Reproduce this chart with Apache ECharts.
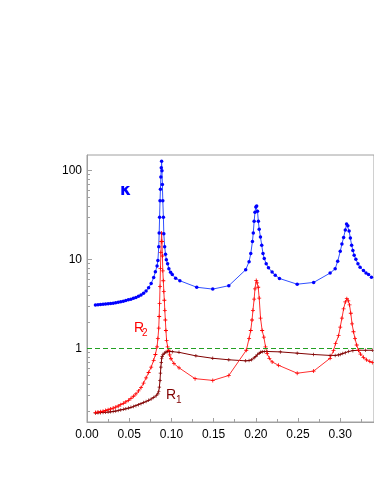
<!DOCTYPE html>
<html>
<head>
<meta charset="utf-8">
<script src="https://cdn.jsdelivr.net/npm/echarts@6/dist/echarts.min.js"></script>
<style>
  html, body { margin: 0; padding: 0; background: #fff; }
  #chart { width: 374px; height: 484px; }
</style>
</head>
<body>
<div id="chart"></div>
<script>
// kappa (blue)
const kappaX = [0.010, 0.013, 0.016, 0.019, 0.022, 0.025, 0.028, 0.031, 0.034, 0.037, 0.040, 0.043, 0.046, 0.049, 0.052, 0.055, 0.058, 0.061, 0.064, 0.067, 0.070, 0.073, 0.076, 0.079, 0.081, 0.083, 0.084, 0.085, 0.0855, 0.086, 0.0865, 0.087, 0.0875, 0.088, 0.0884, 0.0888, 0.0893, 0.0898, 0.0905, 0.091, 0.092, 0.093, 0.094, 0.0955, 0.097, 0.099, 0.101, 0.105, 0.110, 0.130, 0.149, 0.168, 0.188, 0.192, 0.194, 0.196, 0.197, 0.198, 0.199, 0.200, 0.201, 0.202, 0.203, 0.204, 0.2055, 0.207, 0.2085, 0.210, 0.2123, 0.215, 0.2193, 0.223, 0.228, 0.249, 0.2685, 0.288, 0.294, 0.297, 0.300, 0.302, 0.304, 0.306, 0.3075, 0.309, 0.3105, 0.312, 0.3135, 0.315, 0.3165, 0.3185, 0.321, 0.3235, 0.3275, 0.3305, 0.3335, 0.337]
const kappaY = [3.10, 3.12, 3.14, 3.16, 3.18, 3.20, 3.22, 3.24, 3.28, 3.32, 3.37, 3.42, 3.48, 3.54, 3.60, 3.68, 3.77, 3.88, 4.02, 4.20, 4.45, 4.85, 5.4, 6.3, 7.3, 8.5, 9.8, 14, 20, 30, 46, 62, 85, 108, 128, 100, 70, 46, 30, 19.5, 14, 11.5, 10, 9.0, 7.9, 7.2, 6.8, 6.2, 5.8, 4.9, 4.67, 5.1, 7.7, 9.5, 11.7, 16, 20, 27, 34, 39, 40, 35, 27, 22, 18, 14.5, 11.7, 10.3, 9.0, 8.1, 7.25, 6.7, 6.15, 5.3, 5.55, 7.07, 7.9, 9.6, 12.4, 15, 17.8, 21.5, 25.2, 24, 21, 17.5, 14.5, 12.7, 11.2, 10.1, 9.0, 8.2, 7.55, 7.1, 6.8, 6.35]

// R2 (red)
const r2X = [0.010, 0.013, 0.016, 0.019, 0.022, 0.025, 0.028, 0.031, 0.034, 0.037, 0.040, 0.043, 0.046, 0.049, 0.052, 0.055, 0.058, 0.061, 0.064, 0.067, 0.070, 0.073, 0.076, 0.079, 0.081, 0.083, 0.084, 0.085, 0.0855, 0.086, 0.0865, 0.087, 0.0875, 0.088, 0.0884, 0.0888, 0.0893, 0.0898, 0.0904, 0.091, 0.0916, 0.0922, 0.0928, 0.0935, 0.0943, 0.0955, 0.0967, 0.098, 0.0995, 0.103, 0.109, 0.128, 0.149, 0.168, 0.1887, 0.192, 0.194, 0.1955, 0.1966, 0.198, 0.199, 0.2005, 0.2015, 0.2028, 0.204, 0.2056, 0.2075, 0.2095, 0.2115, 0.2134, 0.216, 0.2193, 0.227, 0.249, 0.2685, 0.288, 0.292, 0.2945, 0.298, 0.300, 0.302, 0.304, 0.306, 0.3078, 0.3095, 0.311, 0.3125, 0.314, 0.3157, 0.3175, 0.3195, 0.3216, 0.324, 0.3275, 0.331, 0.335, 0.338]
const r2Y = [0.192, 0.194, 0.196, 0.198, 0.202, 0.206, 0.210, 0.215, 0.220, 0.227, 0.235, 0.243, 0.252, 0.263, 0.276, 0.292, 0.310, 0.335, 0.365, 0.41, 0.47, 0.54, 0.62, 0.74, 0.86, 1.05, 1.3, 1.7, 2.3, 3.2, 5, 8, 12, 16, 20, 16, 11, 7.5, 5.8, 4.4, 3.5, 2.7, 2.1, 1.6, 1.24, 1.05, 0.96, 0.85, 0.77, 0.68, 0.61, 0.46, 0.44, 0.50, 0.96, 1.3, 1.6, 2.1, 2.7, 3.6, 4.7, 5.85, 5.5, 4.9, 3.7, 2.2, 1.6, 1.35, 1.05, 0.88, 0.78, 0.71, 0.65, 0.53, 0.56, 0.78, 0.95, 1.14, 1.4, 1.75, 2.2, 2.8, 3.35, 3.65, 3.45, 3.1, 2.5, 1.9, 1.55, 1.3, 1.1, 0.96, 0.87, 0.80, 0.75, 0.72, 0.70]

// R1 (dark red)
const r1X = [0.010, 0.013, 0.016, 0.019, 0.022, 0.025, 0.028, 0.031, 0.034, 0.037, 0.040, 0.043, 0.046, 0.049, 0.052, 0.055, 0.058, 0.061, 0.064, 0.067, 0.070, 0.073, 0.076, 0.079, 0.082, 0.084, 0.085, 0.0857, 0.0865, 0.087, 0.0875, 0.088, 0.0885, 0.089, 0.090, 0.0916, 0.0936, 0.0955, 0.098, 0.101, 0.109, 0.129, 0.149, 0.168, 0.188, 0.192, 0.195, 0.198, 0.200, 0.202, 0.204, 0.2056, 0.2076, 0.210, 0.2134, 0.229, 0.249, 0.2685, 0.288, 0.294, 0.298, 0.300, 0.303, 0.306, 0.310, 0.315, 0.3216, 0.330, 0.338]
const r1Y = [0.189, 0.190, 0.191, 0.192, 0.193, 0.194, 0.195, 0.197, 0.199, 0.202, 0.205, 0.208, 0.211, 0.215, 0.219, 0.224, 0.229, 0.235, 0.241, 0.248, 0.255, 0.263, 0.272, 0.283, 0.296, 0.310, 0.330, 0.37, 0.44, 0.53, 0.62, 0.70, 0.77, 0.82, 0.86, 0.89, 0.92, 0.93, 0.93, 0.925, 0.91, 0.83, 0.78, 0.75, 0.73, 0.735, 0.75, 0.79, 0.82, 0.86, 0.89, 0.91, 0.925, 0.93, 0.93, 0.92, 0.89, 0.86, 0.84, 0.84, 0.85, 0.86, 0.88, 0.90, 0.93, 0.95, 0.96, 0.96, 0.96]

const refLevel = 1
const yMinorTicks = [0.2, 0.3, 0.4, 0.5, 0.6, 0.7, 0.8, 0.9, 2, 3, 4, 5, 6, 7, 8, 9, 20, 30, 40, 50, 60, 70, 80, 90]

const zip = (xs, ys) => xs.map((x, i) => [x, ys[i]])

const plus = 'path://M2,0H3V2H5V3H3V5H2V3H0V2H2Z'
const axisGray = '#a0a0a0'
const font = 'Liberation Sans, Arial, sans-serif'

const chart = echarts.init(document.getElementById('chart'))

chart.setOption({
  animation: false,
  grid: {
    left: 87,
    top: 155,
    right: -2,
    bottom: 62,
    show: true,
    borderColor: axisGray,
    borderWidth: 1
  },
  xAxis: {
    type: 'value',
    min: 0,
    max: 0.34,
    interval: 0.05,
    axisLine: { show: true, lineStyle: { color: axisGray } },
    axisTick: { show: true, inside: true, length: 4, lineStyle: { color: axisGray } },
    minorTick: { show: true, splitNumber: 2, length: 3, lineStyle: { color: axisGray } },
    splitLine: { show: false },
    axisLabel: {
      color: '#000',
      fontSize: 12,
      fontFamily: font,
      margin: 7,
      showMaxLabel: false,
      formatter: (v) => v.toFixed(2)
    }
  },
  yAxis: [
    {
      type: 'log',
      logBase: 10,
      min: 0.15,
      max: 150,
      axisLine: { show: true, lineStyle: { color: axisGray } },
      axisTick: { show: true, inside: true, length: 5, lineStyle: { color: axisGray } },
      splitLine: { show: false },
      axisLabel: {
        color: '#000',
        fontSize: 12,
        fontFamily: font,
        margin: 5,
        showMinLabel: false,
        showMaxLabel: false
      }
    },
    {
      type: 'log',
      logBase: 10,
      min: 0.15,
      max: 150,
      position: 'left',
      axisLine: { show: false },
      axisTick: {
        show: true,
        inside: true,
        length: 3,
        customValues: yMinorTicks,
        lineStyle: { color: axisGray }
      },
      axisLabel: { show: false },
      splitLine: { show: false }
    }
  ],
  series: [
    {
      name: 'R1',
      type: 'line',
      data: zip(r1X, r1Y),
      symbol: plus,
      symbolSize: 3.5,
      itemStyle: { color: '#800000' },
      lineStyle: { color: '#800000', width: 1 }
    },
    {
      name: 'R2',
      type: 'line',
      data: zip(r2X, r2Y),
      symbol: plus,
      symbolSize: 4,
      itemStyle: { color: '#ff0000' },
      lineStyle: { color: '#ff3030', width: 1 },
      markLine: {
        silent: true,
        symbol: 'none',
        label: { show: false },
        lineStyle: { color: '#22a022', type: [5, 3], width: 1 },
        data: [{ yAxis: refLevel }]
      }
    },
    {
      name: 'kappa',
      type: 'line',
      data: zip(kappaX, kappaY),
      symbol: 'circle',
      symbolSize: 3.5,
      itemStyle: { color: '#0000ff' },
      lineStyle: { color: '#3050ff', width: 1 }
    }
  ],
  graphic: [
    { type: 'text', left: 120, top: 183, style: { text: 'κ', fill: '#0000ff', fontSize: 16, fontWeight: 'bold', fontFamily: 'DejaVu Sans' } },
    { type: 'text', left: 134, top: 321, style: { text: 'R', fill: '#ff0000', fontSize: 14, fontFamily: font } },
    { type: 'text', left: 142, top: 328, style: { text: '2', fill: '#ff0000', fontSize: 10, fontFamily: font } },
    { type: 'text', left: 166, top: 388, style: { text: 'R', fill: '#800000', fontSize: 14, fontFamily: font } },
    { type: 'text', left: 176, top: 395, style: { text: '1', fill: '#800000', fontSize: 10, fontFamily: font } }
  ]
})
</script>
</body>
</html>
